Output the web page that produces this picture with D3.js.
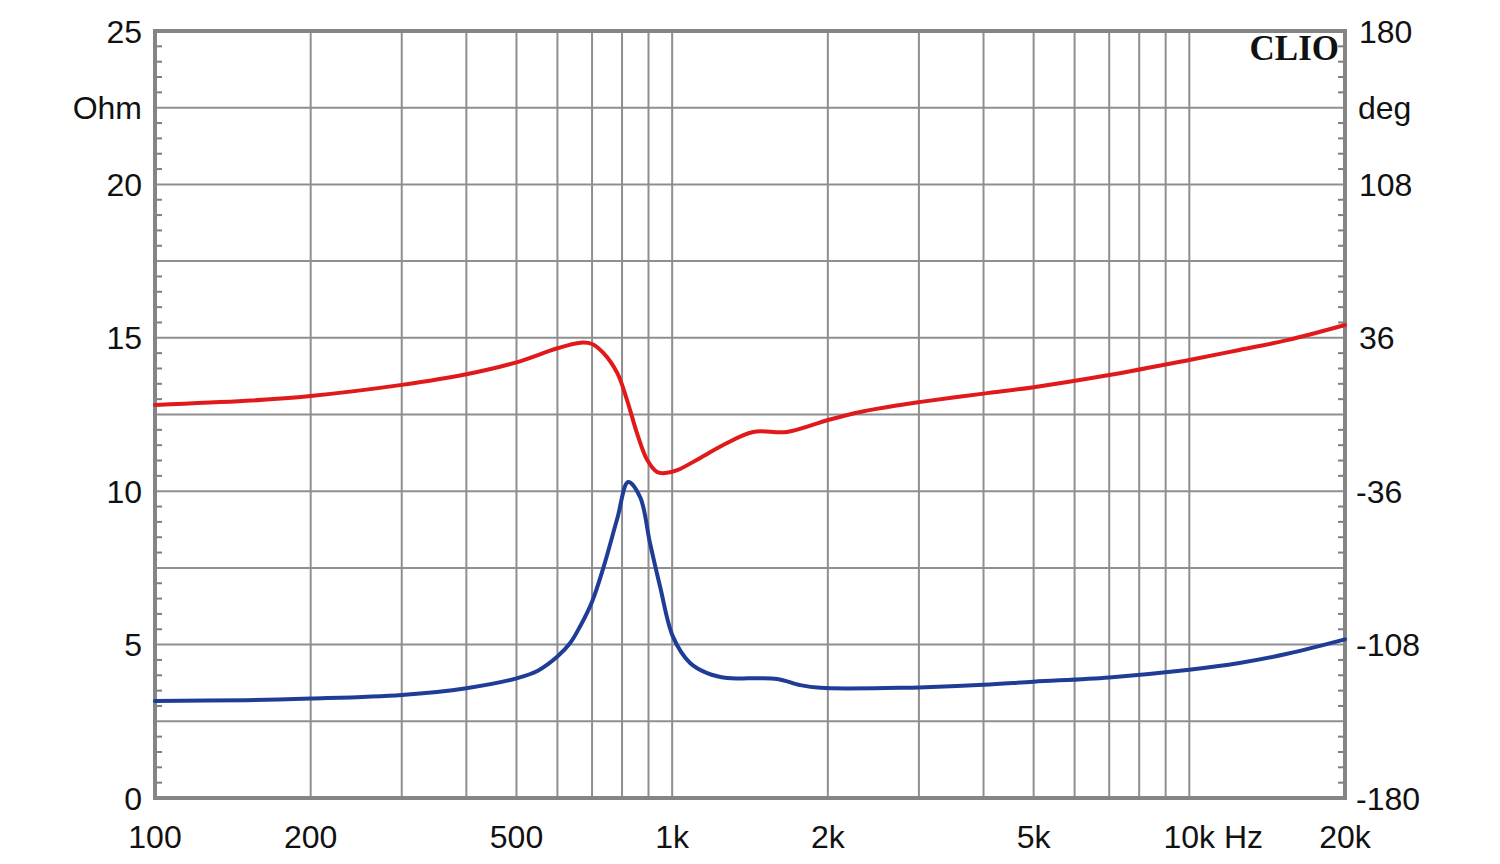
<!DOCTYPE html>
<html>
<head>
<meta charset="utf-8">
<script src="https://cdn.jsdelivr.net/npm/d3@7"></script>
<style>
  html, body { margin: 0; padding: 0; background: #fff; }
  svg { display: block; }
</style>
</head>
<body>
<svg id="chart" width="1500" height="864"></svg>
<script>
// ---- Data ----
const impFreq = [100, 150, 200, 300, 400, 500, 550, 600, 635, 664, 700, 736, 783, 822, 867, 906, 948, 1004, 1083, 1169, 1277, 1416, 1597, 1769, 1933, 2761, 3000, 4000, 5000, 7000, 10000, 12500, 15470, 20000];
const impOhm  = [3.16, 3.19, 3.24, 3.36, 3.58, 3.90, 4.15, 4.61, 5.05, 5.6, 6.4, 7.5, 9.1, 10.3, 9.81, 8.31, 6.88, 5.25, 4.40, 4.07, 3.91, 3.9, 3.88, 3.68, 3.59, 3.59, 3.6, 3.69, 3.79, 3.93, 4.18, 4.40, 4.70, 5.17];

const phaseFreq = [100, 150, 200, 300, 400, 500, 600, 664, 700, 736, 783, 818, 855, 895, 935, 969, 1023, 1133, 1255, 1434, 1668, 2003, 2311, 2761, 3000, 4000, 5000, 7000, 10000, 12500, 15470, 20000];
const phaseDeg  = [4.5, 6.4, 8.7, 13.9, 18.9, 24.5, 31.1, 33.7, 33.1, 28.9, 19.5, 6.8, -8.7, -21.4, -27.0, -27.5, -26.1, -20.4, -14.3, -8.2, -8.2, -2.6, 1.2, 4.5, 5.8, 9.8, 12.8, 18.5, 25.6, 30.3, 34.9, 42];

const xTickValues = [100, 200, 500, 1000, 2000, 5000, 10000, 20000];
const xTickLabels = ["100", "200", "500", "1k", "2k", "5k", "10k", "20k"];
const xGridValues = [100,200,300,400,500,600,700,800,900,1000,2000,3000,4000,5000,6000,7000,8000,9000,10000,20000];
const leftTickValues = [0, 5, 10, 15, 20, 25];
const leftUnit = "Ohm";
const rightTickValues = [-180, -108, -36, 36, 108, 180];
const rightUnit = "deg";
const xUnit = "Hz";
const brand = "CLIO";

// ---- Layout ----
const L = 155, R = 1345, T = 31, B = 798;
const svg = d3.select("#chart");

const x = d3.scaleLog().domain([100, 20000]).range([L, R]);
const yL = d3.scaleLinear().domain([0, 25]).range([B, T]);
const yR = d3.scaleLinear().domain([-180, 180]).range([B, T]);

const gridColor = "#8f8f8f";
const font = "'Liberation Sans', Arial, sans-serif";

// horizontal grid every 2.5 ohm
const hGrid = d3.range(0, 25.01, 2.5);
svg.append("g").selectAll("line").data(hGrid).join("line")
  .attr("x1", L).attr("x2", R)
  .attr("y1", d => yL(d)).attr("y2", d => yL(d))
  .attr("stroke", gridColor).attr("stroke-width", 2);

// vertical grid
svg.append("g").selectAll("line").data(xGridValues).join("line")
  .attr("x1", d => x(d)).attr("x2", d => x(d))
  .attr("y1", T).attr("y2", B)
  .attr("stroke", gridColor).attr("stroke-width", 2);

// minor ticks on left/right axes every 0.5 ohm
const minor = d3.range(0, 25.01, 0.5).filter(v => Math.abs(v / 2.5 - Math.round(v / 2.5)) > 1e-6);
svg.append("g").selectAll("line").data(minor).join("line")
  .attr("x1", L).attr("x2", L + 7)
  .attr("y1", d => yL(d)).attr("y2", d => yL(d))
  .attr("stroke", "#7f7f7f").attr("stroke-width", 2);
svg.append("g").selectAll("line").data(minor).join("line")
  .attr("x1", R - 7).attr("x2", R)
  .attr("y1", d => yL(d)).attr("y2", d => yL(d))
  .attr("stroke", "#7f7f7f").attr("stroke-width", 2);

// frame
svg.append("rect")
  .attr("x", L).attr("y", T).attr("width", R - L).attr("height", B - T)
  .attr("fill", "none").attr("stroke", "#858585").attr("stroke-width", 4);

// curves
const curve = d3.curveCatmullRom.alpha(0.5);
const lineImp = d3.line().x((d, i) => x(impFreq[i])).y(d => yL(d)).curve(curve);
const linePh = d3.line().x((d, i) => x(phaseFreq[i])).y(d => yR(d)).curve(curve);

svg.append("path").attr("d", linePh(phaseDeg))
  .attr("fill", "none").attr("stroke", "#e0191b").attr("stroke-width", 4)
  .attr("stroke-linejoin", "round").attr("stroke-linecap", "round");
svg.append("path").attr("d", lineImp(impOhm))
  .attr("fill", "none").attr("stroke", "#1f3c96").attr("stroke-width", 4)
  .attr("stroke-linejoin", "round").attr("stroke-linecap", "round");

// left labels
const fs = 32;
svg.append("g").selectAll("text").data(leftTickValues).join("text")
  .attr("x", 142).attr("y", d => yL(d))
  .attr("dy", "0.36em")
  .attr("text-anchor", "end")
  .attr("font-family", font).attr("font-size", fs).attr("fill", "#111")
  .text(d => d);
svg.append("text").attr("x", 142).attr("y", yL(22.5)).attr("dy", "0.36em")
  .attr("text-anchor", "end").attr("font-family", font).attr("font-size", fs).attr("fill", "#111")
  .text(leftUnit);

// right labels
svg.append("g").selectAll("text").data(rightTickValues).join("text")
  .attr("x", d => d < 0 ? 1356 : 1359).attr("y", d => yR(d))
  .attr("dy", "0.36em")
  .attr("text-anchor", "start")
  .attr("font-family", font).attr("font-size", fs).attr("fill", "#111")
  .text(d => d);
svg.append("text").attr("x", 1358).attr("y", yL(22.5)).attr("dy", "0.36em")
  .attr("text-anchor", "start").attr("font-family", font).attr("font-size", fs).attr("fill", "#111")
  .text(rightUnit);

// bottom labels
const bottom = svg.append("g");
xTickValues.forEach((v, i) => {
  const lab = xTickLabels[i];
  if (lab === "10k") {
    const t = bottom.append("text").attr("x", x(v)).attr("y", 848)
      .attr("font-family", font).attr("font-size", fs).attr("fill", "#111")
      .attr("text-anchor", "start");
    t.text(lab);
    const w = t.node().getComputedTextLength();
    t.attr("x", x(v) - w / 2).text(lab + " " + xUnit);
  } else {
    bottom.append("text").attr("x", x(v)).attr("y", 848)
      .attr("text-anchor", "middle")
      .attr("font-family", font).attr("font-size", fs).attr("fill", "#111")
      .text(lab);
  }
});

// brand
svg.append("text").attr("x", 1339).attr("y", 60)
  .attr("text-anchor", "end")
  .attr("font-family", "'Liberation Serif', 'Times New Roman', serif")
  .attr("font-weight", "bold").attr("font-size", 35).attr("fill", "#111")
  .text(brand);
</script>
</body>
</html>
